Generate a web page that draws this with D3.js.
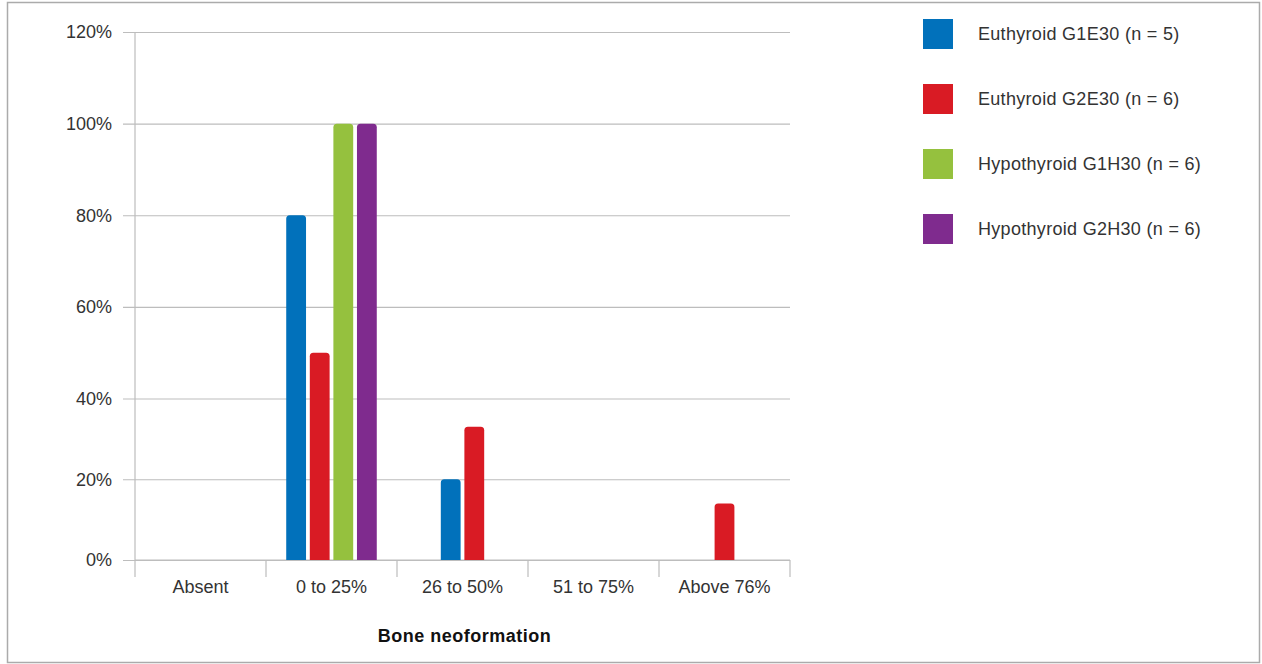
<!DOCTYPE html>
<html>
<head>
<meta charset="utf-8">
<script src="https://cdn.jsdelivr.net/npm/d3@7"></script>
<style>
  html, body { margin: 0; padding: 0; background: #fff; }
  svg { display: block; }
  text { font-family: "Liberation Sans", Arial, Helvetica, sans-serif; }
</style>
</head>
<body>
<svg id="chart" width="1262" height="664"></svg>
<script>
// Bone neoformation scores per group (% of animals)
const categories = ["Absent", "0 to 25%", "26 to 50%", "51 to 75%", "Above 76%"];
const seriesNames = [
  "Euthyroid G1E30 (n = 5)",
  "Euthyroid G2E30 (n = 6)",
  "Hypothyroid G1H30 (n = 6)",
  "Hypothyroid G2H30 (n = 6)"
];
const euthyroidG1E30   = [0, 80, 20, 0, 0];
const euthyroidG2E30   = [0, 50, 33, 0, 14];
const hypothyroidG1H30 = [0, 100, 0, 0, 0];
const hypothyroidG2H30 = [0, 100, 0, 0, 0];
const seriesColors = ["#0171bb", "#d91b24", "#95c13e", "#7f2b8e"];
const yTicks = [0, 20, 40, 60, 80, 100, 120];

const seriesValues = [euthyroidG1E30, euthyroidG2E30, hypothyroidG1H30, hypothyroidG2H30];

const svg = d3.select("#chart");
const W = 1262, H = 664;
const plot = { left: 135, right: 790, top: 32, bottom: 560 };
const textColor = "#333";
const gridColor = "#bdbdbd";
const fontSize = "18px";

// outer frame
svg.append("rect")
  .attr("x", 7.5).attr("y", 2.5)
  .attr("width", W - 10).attr("height", H - 4)
  .attr("fill", "none").attr("stroke", "#ababab").attr("stroke-width", 1.5);

const x = d3.scaleBand()
  .domain(categories)
  .range([plot.left, plot.right])
  .paddingInner(0).paddingOuter(0);

// the value axis is drawn with a slightly compressed lower section
const y = d3.scaleLinear()
  .domain([0, 40, 120])
  .range([plot.bottom, 398.5, plot.top]);

// horizontal grid lines + outward y ticks
const yAxis = d3.axisLeft(y)
  .tickValues(yTicks)
  .tickSize(-(plot.right - plot.left))
  .tickSizeOuter(0)
  .tickPadding(23)
  .tickFormat(d => d + "%");

const gy = svg.append("g")
  .attr("transform", `translate(${plot.left},0)`)
  .call(yAxis);
gy.select(".domain").remove();
gy.selectAll(".tick line")
  .attr("x1", -12)
  .attr("stroke", gridColor).attr("stroke-width", 1.2);
gy.selectAll(".tick text")
  .attr("fill", textColor)
  .style("font-size", fontSize);

// vertical value-axis line
svg.append("line")
  .attr("x1", plot.left).attr("x2", plot.left)
  .attr("y1", y(120)).attr("y2", y(0))
  .attr("stroke", gridColor).attr("stroke-width", 1.2);

// category axis: boundary ticks hang below the baseline
const gx = svg.append("g")
  .attr("transform", `translate(0,${plot.bottom})`);
gx.append("line")
  .attr("x1", plot.left).attr("x2", plot.right)
  .attr("stroke", gridColor).attr("stroke-width", 1.2);
const bounds = categories.map(c => x(c)).concat([x(categories[categories.length - 1]) + x.bandwidth()]);
gx.selectAll("line.bound")
  .data(bounds)
  .join("line")
  .attr("class", "bound")
  .attr("x1", d => d).attr("x2", d => d)
  .attr("y1", 0).attr("y2", 17)
  .attr("stroke", gridColor).attr("stroke-width", 1.2);
gx.selectAll("text.cat")
  .data(categories)
  .join("text")
  .attr("class", "cat")
  .attr("x", d => x(d) + x.bandwidth() / 2)
  .attr("y", 33)
  .attr("text-anchor", "middle")
  .attr("fill", textColor)
  .style("font-size", fontSize)
  .text(d => d);

// axis title
svg.append("text")
  .attr("x", (plot.left + plot.right) / 2 + 2)
  .attr("y", 642)
  .attr("text-anchor", "middle")
  .attr("fill", "#111")
  .style("font-size", fontSize)
  .style("font-weight", "bold")
  .style("letter-spacing", "0.5px")
  .text("Bone neoformation");

// bars: within each category the non-empty bars are centred
const slot = x.bandwidth() * 0.18;
const barW = slot * 0.84;
const rad = 3.5;

function topRoundedRect(x0, y0, w, h, r) {
  const rr = Math.min(r, h / 2, w / 2);
  const p = d3.path();
  p.moveTo(x0, y0 + h);
  p.lineTo(x0, y0 + rr);
  p.quadraticCurveTo(x0, y0, x0 + rr, y0);
  p.lineTo(x0 + w - rr, y0);
  p.quadraticCurveTo(x0 + w, y0, x0 + w, y0 + rr);
  p.lineTo(x0 + w, y0 + h);
  p.closePath();
  return p.toString();
}

const bars = [];
categories.forEach((cat, ci) => {
  const present = seriesNames
    .map((s, si) => ({ s, si, v: seriesValues[si][ci] }))
    .filter(d => d.v > 0);
  const center = x(cat) + x.bandwidth() / 2;
  const inner = d3.scaleBand()
    .domain(present.map(d => d.s))
    .range([center - present.length * slot / 2, center + present.length * slot / 2]);
  present.forEach(d => {
    bars.push({
      x: inner(d.s) + (slot - barW) / 2,
      v: d.v,
      color: seriesColors[d.si]
    });
  });
});

svg.append("g").selectAll("path")
  .data(bars)
  .join("path")
  .attr("d", d => topRoundedRect(d.x, y(d.v), barW, y(0) - y(d.v), rad))
  .attr("fill", d => d.color);

// legend
const ly = d3.scalePoint()
  .domain(seriesNames)
  .range([19, 214]);
const lg = svg.append("g").selectAll("g")
  .data(seriesNames)
  .join("g")
  .attr("transform", d => `translate(923,${ly(d)})`);
lg.append("rect")
  .attr("width", 30).attr("height", 30)
  .attr("fill", (d, i) => seriesColors[i]);
lg.append("text")
  .attr("x", 55).attr("y", 15)
  .attr("dy", "0.35em")
  .attr("fill", textColor)
  .style("font-size", fontSize)
  .style("letter-spacing", "0.3px")
  .text(d => d);
</script>
</body>
</html>
